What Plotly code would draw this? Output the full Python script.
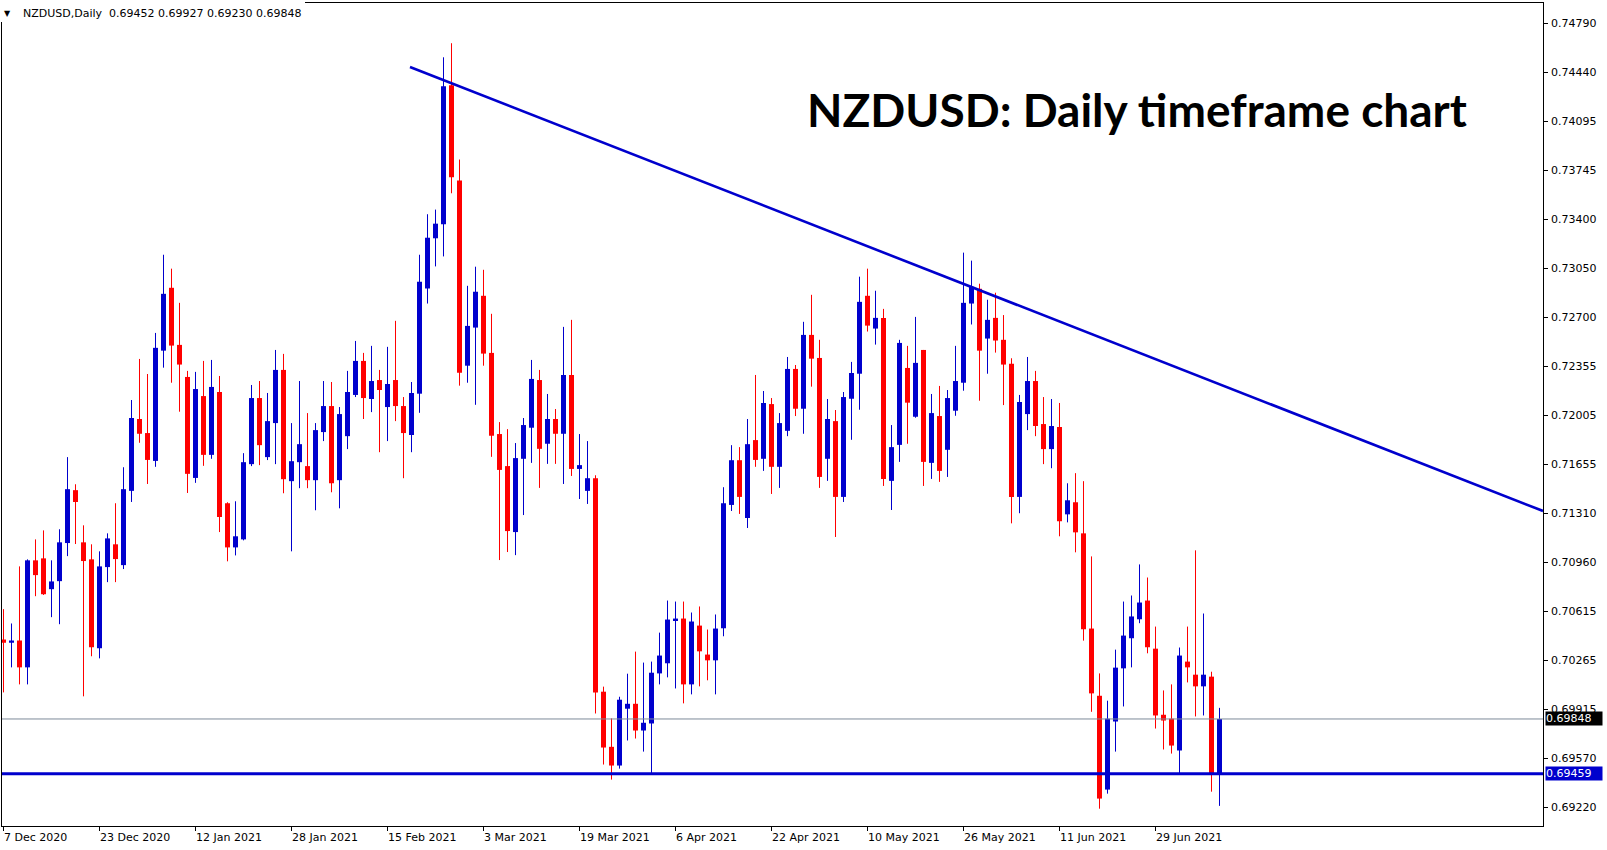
import numpy as np
import plotly.graph_objects as go

# ---------------- data ----------------
opens = [0.70413, 0.70390, 0.70406, 0.70215, 0.70976, 0.70990, 0.70771, 0.70828, 0.71099, 0.71475,
         0.71104, 0.70983, 0.70351, 0.70928, 0.71090, 0.70942, 0.71470, 0.71981, 0.71881, 0.71683,
         0.72467, 0.72914, 0.72508, 0.72280, 0.71562, 0.72144, 0.71726, 0.72173, 0.71382, 0.71068,
         0.71125, 0.71660, 0.72130, 0.71710, 0.71952, 0.72330, 0.71539, 0.71674, 0.71646, 0.71546,
         0.71888, 0.72073, 0.71546, 0.71859, 0.72152, 0.72394, 0.72123, 0.72258, 0.72066, 0.72258,
         0.72073, 0.71867, 0.72161, 0.72909, 0.73266, 0.73365, 0.74354, 0.73677, 0.72360, 0.72631,
         0.72857, 0.72451, 0.71874, 0.71646, 0.71177, 0.71698, 0.71919, 0.72258, 0.71805, 0.71981,
         0.71876, 0.72294, 0.71626, 0.71470, 0.71560, 0.70042, 0.69650, 0.69517, 0.69921, 0.69956,
         0.69766, 0.69816, 0.70172, 0.70244, 0.70550, 0.70562, 0.70094, 0.70512, 0.70306, 0.70265,
         0.70493, 0.71370, 0.71688, 0.71277, 0.71831, 0.71698, 0.72087, 0.71641, 0.71897, 0.72337,
         0.72054, 0.72579, 0.72415, 0.71698, 0.71966, 0.71427, 0.72125, 0.72303, 0.72857, 0.72624,
         0.72700, 0.71541, 0.71797, 0.72344, 0.71997, 0.72472, 0.71669, 0.72002, 0.71762, 0.72040,
         0.72239, 0.72802, 0.72907, 0.72553, 0.72700, 0.72544, 0.72373, 0.71427, 0.72016, 0.72251,
         0.71945, 0.71767, 0.71924, 0.71303, 0.71389, 0.71168, 0.70491, 0.70013, 0.69346, 0.69830,
         0.70208, 0.70422, 0.70557, 0.70690, 0.70348, 0.69878, 0.69850, 0.69624, 0.70256, 0.70163,
         0.70080, 0.70149, 0.69452]
highs = [0.70629, 0.70527, 0.70933, 0.70983, 0.71125, 0.71189, 0.70976, 0.71197, 0.71710, 0.71517,
         0.71225, 0.71090, 0.71040, 0.71168, 0.71382, 0.71638, 0.72116, 0.72408, 0.72301, 0.72593,
         0.73149, 0.73050, 0.72807, 0.72323, 0.72316, 0.72394, 0.72401, 0.72287, 0.71389, 0.71396,
         0.71738, 0.72223, 0.72251, 0.72166, 0.72472, 0.72444, 0.71952, 0.72251, 0.72023, 0.71952,
         0.72251, 0.72244, 0.72066, 0.72323, 0.72536, 0.72451, 0.72501, 0.72330, 0.72494, 0.72679,
         0.72137, 0.72244, 0.73149, 0.73437, 0.73470, 0.74553, 0.74653, 0.73826, 0.72928, 0.73064,
         0.73042, 0.72729, 0.71959, 0.71909, 0.71810, 0.71988, 0.72401, 0.72330, 0.72159, 0.72052,
         0.72636, 0.72686, 0.71874, 0.71824, 0.71581, 0.70078, 0.69852, 0.70006, 0.70170, 0.70327,
         0.70249, 0.70256, 0.70462, 0.70690, 0.70683, 0.70683, 0.70605, 0.70648, 0.70484, 0.70591,
         0.71496, 0.71795, 0.71781, 0.71981, 0.72294, 0.72180, 0.72130, 0.72023, 0.72422, 0.72365,
         0.72672, 0.72864, 0.72544, 0.72123, 0.72045, 0.72173, 0.72387, 0.72993, 0.73050, 0.72893,
         0.72764, 0.71938, 0.72544, 0.72501, 0.72707, 0.72472, 0.72159, 0.72216, 0.72187, 0.72501,
         0.73164, 0.73107, 0.72943, 0.72829, 0.72879, 0.72720, 0.72413, 0.72152, 0.72422, 0.72323,
         0.72137, 0.72123, 0.72095, 0.71524, 0.71596, 0.71539, 0.71004, 0.70172, 0.69978, 0.70341,
         0.70683, 0.70726, 0.70947, 0.70854, 0.70505, 0.70051, 0.70094, 0.70356, 0.70505, 0.71047,
         0.70598, 0.70184, 0.69927]
lows = [0.70037, 0.70215, 0.70094, 0.70094, 0.70721, 0.70730, 0.70572, 0.70522, 0.71006, 0.71092,
        0.70009, 0.70294, 0.70279, 0.70821, 0.70821, 0.70914, 0.71391, 0.71812, 0.71519, 0.71641,
        0.72346, 0.72239, 0.72033, 0.71455, 0.71527, 0.71648, 0.71698, 0.71177, 0.70969, 0.71011,
        0.71118, 0.71646, 0.71653, 0.71689, 0.71660, 0.71453, 0.71040, 0.71489, 0.71489, 0.71332,
        0.71824, 0.71460, 0.71346, 0.71767, 0.72137, 0.71981, 0.72030, 0.71745, 0.71824, 0.71966,
        0.71560, 0.71745, 0.72025, 0.72802, 0.73066, 0.73137, 0.73586, 0.72218, 0.72239, 0.72082,
        0.72360, 0.71712, 0.70978, 0.71035, 0.71013, 0.71298, 0.71669, 0.71491, 0.71662, 0.71662,
        0.71519, 0.71576, 0.71412, 0.71377, 0.69887, 0.69524, 0.69417, 0.69495, 0.69695, 0.69709,
        0.69616, 0.69459, 0.70094, 0.70144, 0.70065, 0.69959, 0.70023, 0.70080, 0.70123, 0.70023,
        0.70436, 0.71327, 0.71306, 0.71206, 0.71641, 0.71612, 0.71448, 0.71491, 0.71859, 0.72002,
        0.71876, 0.72211, 0.71491, 0.71541, 0.71142, 0.71391, 0.71833, 0.72047, 0.72603, 0.72510,
        0.71505, 0.71334, 0.71676, 0.71805, 0.71990, 0.71505, 0.71555, 0.71534, 0.71569, 0.72004,
        0.72182, 0.72653, 0.72111, 0.72303, 0.72453, 0.72080, 0.71239, 0.71311, 0.71902, 0.71859,
        0.71660, 0.71631, 0.71147, 0.71246, 0.71033, 0.70405, 0.69899, 0.69210, 0.69317, 0.69616,
        0.69937, 0.70215, 0.70529, 0.70315, 0.69780, 0.69631, 0.69602, 0.69459, 0.70108, 0.69866,
        0.69873, 0.69331, 0.69230]
closes = [0.70390, 0.70406, 0.70215, 0.70976, 0.70871, 0.70735, 0.70826, 0.71104, 0.71482, 0.71391,
          0.70971, 0.70358, 0.70933, 0.71132, 0.70985, 0.71482, 0.71988, 0.71876, 0.71690, 0.72487,
          0.72871, 0.72503, 0.72368, 0.71591, 0.72194, 0.71726, 0.72209, 0.71284, 0.71068, 0.71147,
          0.71674, 0.72130, 0.71795, 0.71966, 0.72330, 0.71553, 0.71681, 0.71802, 0.71546, 0.71902,
          0.72073, 0.71524, 0.72016, 0.72173, 0.72394, 0.72130, 0.72251, 0.72187, 0.72230, 0.72073,
          0.71881, 0.72166, 0.72957, 0.73270, 0.73370, 0.74347, 0.73700, 0.72310, 0.72643, 0.72886,
          0.72446, 0.71862, 0.71619, 0.71184, 0.71703, 0.71938, 0.72266, 0.71769, 0.71981, 0.71876,
          0.72294, 0.71626, 0.71653, 0.71560, 0.70037, 0.69645, 0.69517, 0.69985, 0.69956, 0.69766,
          0.69821, 0.70177, 0.70299, 0.70555, 0.70562, 0.70094, 0.70541, 0.70329, 0.70265, 0.70491,
          0.71382, 0.71688, 0.71427, 0.71802, 0.71690, 0.72095, 0.71641, 0.71952, 0.72337, 0.72054,
          0.72579, 0.72410, 0.71569, 0.71981, 0.71427, 0.72137, 0.72308, 0.72814, 0.72645, 0.72700,
          0.71555, 0.71781, 0.72522, 0.72097, 0.72380, 0.71676, 0.72023, 0.71612, 0.72130, 0.72251,
          0.72807, 0.72921, 0.72467, 0.72686, 0.72539, 0.72368, 0.71427, 0.72102, 0.72251, 0.71931,
          0.71767, 0.71931, 0.71254, 0.71403, 0.71175, 0.70486, 0.70030, 0.69282, 0.69850, 0.70213,
          0.70441, 0.70577, 0.70676, 0.70358, 0.69873, 0.69837, 0.69659, 0.70299, 0.70215, 0.70080,
          0.70163, 0.69452, 0.69848]

date_labels = ["7 Dec 2020", "23 Dec 2020", "12 Jan 2021", "28 Jan 2021", "15 Feb 2021",
               "3 Mar 2021", "19 Mar 2021", "6 Apr 2021", "22 Apr 2021", "10 May 2021",
               "26 May 2021", "11 Jun 2021", "29 Jun 2021"]
date_label_bars = [0, 12, 24, 36, 48, 60, 72, 84, 96, 108, 120, 132, 144]

price_labels = ["0.74790", "0.74440", "0.74095", "0.73745", "0.73400", "0.73050", "0.72700",
                "0.72355", "0.72005", "0.71655", "0.71310", "0.70960", "0.70615", "0.70265",
                "0.69915", "0.69570", "0.69220"]

support_level = 0.69459
last_close = 0.69848
trend_x = [50.81, 192.4375]
trend_y = [0.74484, 0.71327]

header_text = "NZDUSD,Daily  0.69452 0.69927 0.69230 0.69848"
title_text = "NZDUSD: Daily timeframe chart"

# ---------------- styling ----------------
BULL = "#0000CD"
BEAR = "#FF0000"
LABEL_FONT = "DejaVu Sans"
LABEL_SIZE = 11
W, H = 1607, 850
ML, MR, MT, MB = 2, 64, 3, 24
X_RANGE = [-0.1875, 192.4375]
Y_RANGE = [0.69087, 0.74939]

o = np.array(opens); h = np.array(highs); l = np.array(lows); c = np.array(closes)
idx = np.arange(len(o))
bull = c >= o
bear = ~bull

fig = go.Figure()

def wick_xy(mask):
    xs, ys = [], []
    for i in idx[mask]:
        xs += [i, i, None]
        ys += [l[i], h[i], None]
    return xs, ys

for mask, col in ((bull, BULL), (bear, BEAR)):
    xs, ys = wick_xy(mask)
    fig.add_trace(go.Scatter(x=xs, y=ys, mode="lines",
                             line=dict(color=col, width=1), hoverinfo="skip"))

for mask, col in ((bull, BULL), (bear, BEAR)):
    base = np.minimum(o, c)[mask]
    height = np.maximum(np.abs(c - o)[mask], 0.00007)
    fig.add_trace(go.Bar(x=idx[mask], y=height, base=base, width=0.625,
                         marker=dict(color=col, line=dict(width=0)), hoverinfo="skip"))

# trendline
fig.add_shape(type="line", xref="x", yref="y", x0=trend_x[0], y0=trend_y[0],
              x1=trend_x[1], y1=trend_y[1], line=dict(color=BULL, width=2.6), layer="above")
# horizontal lines
fig.add_shape(type="line", xref="paper", yref="y", x0=0, x1=1, y0=last_close, y1=last_close,
              line=dict(color="#7d8a99", width=1), layer="above")
fig.add_shape(type="line", xref="paper", yref="y", x0=0, x1=1, y0=support_level, y1=support_level,
              line=dict(color=BULL, width=3), layer="above")

pw = W - ML - MR
ph = H - MT - MB
def px(X):
    return (X - ML) / pw
def py(Y):
    return (H - MB - Y) / ph

# white box behind the header (covers the border there)
fig.add_shape(type="rect", xref="paper", yref="paper", x0=px(-1), x1=px(305), y0=py(22), y1=py(-1),
              fillcolor="white", line=dict(width=0), layer="above")

annotations = []
annotations.append(dict(xref="paper", yref="paper", x=px(7), y=py(13), text="▼", showarrow=False,
                        xanchor="center", yanchor="middle", font=dict(family=LABEL_FONT, size=8, color="black")))
annotations.append(dict(xref="paper", yref="paper", x=px(21), y=py(13), text=header_text, showarrow=False,
                        xanchor="left", yanchor="middle", font=dict(family=LABEL_FONT, size=LABEL_SIZE, color="black")))
annotations.append(dict(xref="paper", yref="paper", x=px(1137), y=py(109), text=title_text, showarrow=False,
                        xanchor="center", yanchor="middle",
                        font=dict(family="Lato", size=46, color="black", weight="bold")))
for lab, b in zip(date_labels, date_label_bars):
    annotations.append(dict(xref="x", yref="paper", x=b, y=py(837.5), text=lab, showarrow=False,
                            xanchor="left", yanchor="middle", xshift=-2,
                            font=dict(family=LABEL_FONT, size=LABEL_SIZE, color="black")))

tickvals = np.linspace(float(price_labels[0]), float(price_labels[-1]), len(price_labels))
for lab, tv in zip(price_labels, tickvals):
    annotations.append(dict(xref="paper", yref="y", x=1, y=tv, xshift=6, text=lab, showarrow=False,
                            xanchor="left", yanchor="middle",
                            font=dict(family=LABEL_FONT, size=LABEL_SIZE, color="black")))

# price boxes on the right
annotations.append(dict(xref="paper", yref="y", x=1, y=last_close, xshift=2, text=f"{last_close:.5f}",
                        showarrow=False, xanchor="left", yanchor="middle", bgcolor="black", borderpad=0,
                        width=56, align="left", font=dict(family=LABEL_FONT, size=LABEL_SIZE, color="white")))
annotations.append(dict(xref="paper", yref="y", x=1, y=support_level, xshift=2, text=f"{support_level:.5f}",
                        showarrow=False, xanchor="left", yanchor="middle", bgcolor=BULL, borderpad=0,
                        width=56, align="left", font=dict(family=LABEL_FONT, size=LABEL_SIZE, color="white")))

fig.update_layout(
    width=W, height=H,
    margin=dict(l=ML, r=MR, t=MT, b=MB, pad=0),
    paper_bgcolor="white", plot_bgcolor="white",
    showlegend=False, barmode="overlay",
    annotations=annotations,
    xaxis=dict(range=X_RANGE, showgrid=False, zeroline=False, showline=True, mirror=True,
               linecolor="black", linewidth=1, ticks="outside", ticklen=4, tickcolor="black",
               tickvals=date_label_bars, showticklabels=False, fixedrange=True),
    yaxis=dict(range=Y_RANGE, side="right", showgrid=False, zeroline=False, showline=True, mirror=True,
               linecolor="black", linewidth=1, ticks="outside", ticklen=4, tickcolor="black",
               tickvals=tickvals, showticklabels=False, fixedrange=True),
)

fig.write_html("out.html", config={"displayModeBar": False},
               post_script="document.body.style.margin='0';document.body.style.overflow='hidden';")
